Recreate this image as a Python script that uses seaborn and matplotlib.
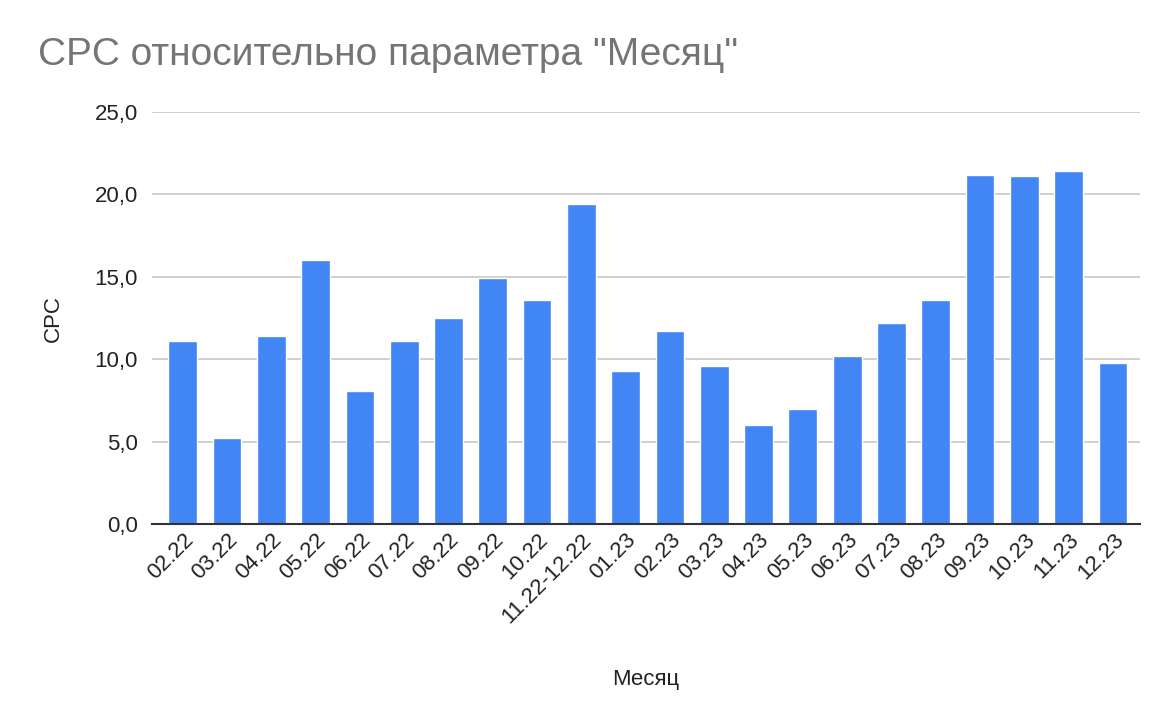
import pandas as pd
import seaborn as sns
import matplotlib.pyplot as plt
from matplotlib.ticker import FuncFormatter

months = ["02.22", "03.22", "04.22", "05.22", "06.22", "07.22", "08.22", "09.22",
          "10.22", "11.22-12.22", "01.23", "02.23", "03.23", "04.23", "05.23",
          "06.23", "07.23", "08.23", "09.23", "10.23", "11.23", "12.23"]
cpc = [11.1, 5.2, 11.4, 16.0, 8.1, 11.1, 12.5, 14.9, 13.6, 19.4, 9.3, 11.7,
       9.6, 6.0, 7.0, 10.2, 12.2, 13.6, 21.2, 21.1, 21.4, 9.8]

df = pd.DataFrame({"Месяц": months, "CPC": cpc})

sns.set_theme(style="white")
plt.rcParams["font.family"] = ["Liberation Sans", "DejaVu Sans"]

fig, ax = plt.subplots(figsize=(11.76, 7.27), dpi=100)
fig.subplots_adjust(left=0.129, right=0.969, top=0.846, bottom=0.279)

sns.barplot(data=df, x="Месяц", y="CPC", color="#4285F4", saturation=1,
            width=0.65, ax=ax, zorder=3)

ax.set_ylim(0, 25)
ax.set_yticks([0, 5, 10, 15, 20, 25])
ax.yaxis.set_major_formatter(FuncFormatter(lambda v, p: f"{v:.1f}".replace(".", ",")))
ax.grid(axis="y", color="#cccccc", linewidth=1.3, zorder=0)
ax.set_xlim(-0.7, len(months) - 0.4)

for s in ["top", "right", "left"]:
    ax.spines[s].set_visible(False)
ax.spines["bottom"].set_color("#333333")
ax.spines["bottom"].set_linewidth(1.5)
ax.spines["bottom"].set_zorder(4)

ax.tick_params(axis="both", length=0, labelsize=16, colors="#222222")
ax.tick_params(axis="y", pad=10)
ax.tick_params(axis="x", pad=4)
plt.setp(ax.get_xticklabels(), rotation=45, ha="right", rotation_mode="anchor")

ax.set_xlabel("Месяц", fontsize=16, color="#222222", labelpad=30)
ax.set_ylabel("CPC", fontsize=16, color="#222222", labelpad=22)

fig.text(0.032, 0.925, 'CPC относительно параметра "Месяц"', fontsize=28,
         color="#757575", ha="left", va="center")

fig.savefig("out.png", dpi=100)
